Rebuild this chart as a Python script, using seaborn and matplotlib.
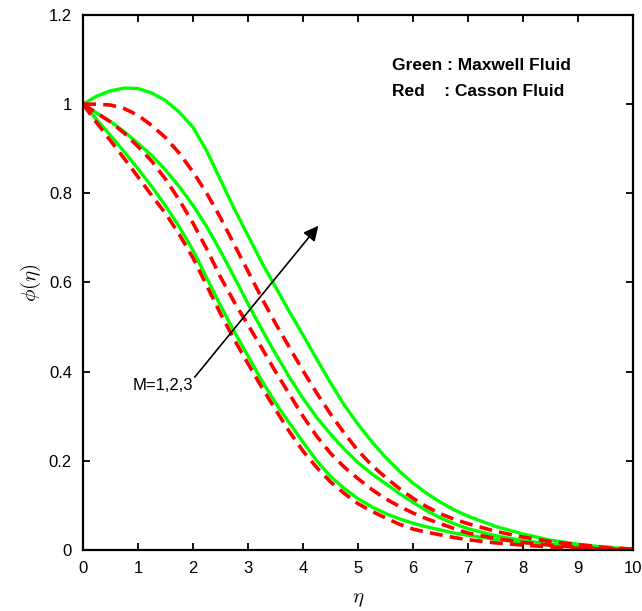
import matplotlib
matplotlib.use('Agg')
import matplotlib.pyplot as plt
import seaborn as sns
import pandas as pd

# eta grid and profiles
eta = [0, 0.25, 0.5, 0.75, 1, 1.25, 1.5, 1.75, 2, 2.25, 2.5, 2.75, 3, 3.25, 3.5, 3.75,
       4, 4.25, 4.5, 4.75, 5, 5.25, 5.5, 5.75, 6, 6.25, 6.5, 6.75, 7, 7.5, 8, 8.5, 9, 9.5, 10]

# Maxwell fluid (green, solid), M = 1, 2, 3
maxwell_m1 = [1.0, 0.965, 0.93, 0.893, 0.855, 0.815, 0.772, 0.725, 0.672, 0.61, 0.548, 0.49, 0.435, 0.38, 0.33, 0.285,
              0.242, 0.2, 0.165, 0.138, 0.115, 0.097, 0.082, 0.07, 0.06, 0.052, 0.045, 0.038, 0.033, 0.024, 0.017, 0.011, 0.007, 0.003, 0.0]
maxwell_m2 = [1.0, 0.98, 0.961, 0.938, 0.912, 0.885, 0.852, 0.815, 0.773, 0.725, 0.67, 0.612, 0.552, 0.495, 0.44, 0.388,
              0.34, 0.297, 0.26, 0.226, 0.196, 0.171, 0.149, 0.127, 0.107, 0.088, 0.072, 0.059, 0.048, 0.032, 0.021, 0.013, 0.008, 0.004, 0.001]
maxwell_m3 = [1.0, 1.018, 1.03, 1.036, 1.035, 1.025, 1.008, 0.982, 0.948, 0.895, 0.83, 0.765, 0.705, 0.645, 0.59, 0.535,
              0.482, 0.428, 0.375, 0.325, 0.282, 0.243, 0.208, 0.177, 0.15, 0.127, 0.107, 0.09, 0.076, 0.053, 0.036, 0.022, 0.013, 0.006, 0.002]

# Casson fluid (red, dashed), M = 1, 2, 3
casson_m1 = [1.0, 0.958, 0.918, 0.878, 0.837, 0.795, 0.755, 0.708, 0.655, 0.593, 0.53, 0.472, 0.418, 0.365, 0.315, 0.266,
             0.222, 0.185, 0.153, 0.127, 0.104, 0.087, 0.072, 0.058, 0.047, 0.04, 0.034, 0.028, 0.023, 0.016, 0.011, 0.007, 0.004, 0.002, 0.0]
casson_m2 = [1.0, 0.98, 0.96, 0.935, 0.905, 0.872, 0.832, 0.785, 0.733, 0.675, 0.612, 0.556, 0.505, 0.453, 0.4, 0.35,
             0.3, 0.255, 0.217, 0.186, 0.16, 0.136, 0.115, 0.098, 0.083, 0.07, 0.059, 0.048, 0.038, 0.026, 0.017, 0.011, 0.006, 0.003, 0.001]
casson_m3 = [1.0, 1.0, 0.998, 0.99, 0.975, 0.952, 0.925, 0.89, 0.848, 0.8, 0.745, 0.685, 0.625, 0.565, 0.508, 0.455,
             0.402, 0.352, 0.305, 0.262, 0.223, 0.19, 0.163, 0.138, 0.116, 0.097, 0.081, 0.069, 0.059, 0.042, 0.029, 0.019, 0.012, 0.006, 0.002]

xticks = list(range(0, 11))
yticks = [0, 0.2, 0.4, 0.6, 0.8, 1, 1.2]
ytick_labels = ['0', '0.2', '0.4', '0.6', '0.8', '1', '1.2']

sns.set_style("ticks")
plt.rcParams['font.family'] = ['Liberation Sans', 'DejaVu Sans']
plt.rcParams['mathtext.fontset'] = 'cm'
plt.rcParams['text.color'] = 'black'
plt.rcParams['axes.labelcolor'] = 'black'

fig = plt.figure(figsize=(6.42, 6.11), dpi=100)
ax = fig.add_axes([0.1293, 0.0998, 0.8567, 0.8757])

for ys in [maxwell_m1, maxwell_m2, maxwell_m3]:
    df = pd.DataFrame({'eta': eta, 'phi': ys})
    sns.lineplot(data=df, x='eta', y='phi', ax=ax, color=(0, 1, 0), lw=2.4, sort=False)

for ys in [casson_m1, casson_m2, casson_m3]:
    df = pd.DataFrame({'eta': eta, 'phi': ys})
    sns.lineplot(data=df, x='eta', y='phi', ax=ax, color=(1, 0, 0), lw=2.6, sort=False,
                 dashes=False, linestyle=(0, (3.6, 2.0)))

ax.set_xlim(0, 10)
ax.set_ylim(0, 1.2)
ax.set_xticks(xticks)
ax.set_yticks(yticks)
ax.set_yticklabels(ytick_labels)
ax.tick_params(direction='in', length=5, width=1.3, top=True, right=True, labelsize=12, pad=8, colors='black')
for s in ax.spines.values():
    s.set_linewidth(1.6)
    s.set_color('black')
    s.set_visible(True)

ax.set_xlabel(r'$\eta$', fontsize=15, labelpad=10)
ax.set_ylabel(r'$\phi(\eta)$', fontsize=15, labelpad=4)

ax.text(5.62, 1.087, 'Green : Maxwell Fluid', fontsize=12.5, fontweight='bold', va='center')
ax.text(5.62, 1.029, 'Red    : Casson Fluid', fontsize=12.5, fontweight='bold', va='center')

ax.annotate('', xy=(4.31, 0.732), xytext=(2.0, 0.383),
            arrowprops=dict(arrowstyle='-|>', color='black', lw=1.2, mutation_scale=22))
ax.text(0.9, 0.37, 'M=1,2,3', fontsize=12, va='center', ha='left')

ax.set_facecolor('white')
fig.patch.set_facecolor('white')
plt.savefig('out.png', dpi=100, facecolor='white')
plt.close()
